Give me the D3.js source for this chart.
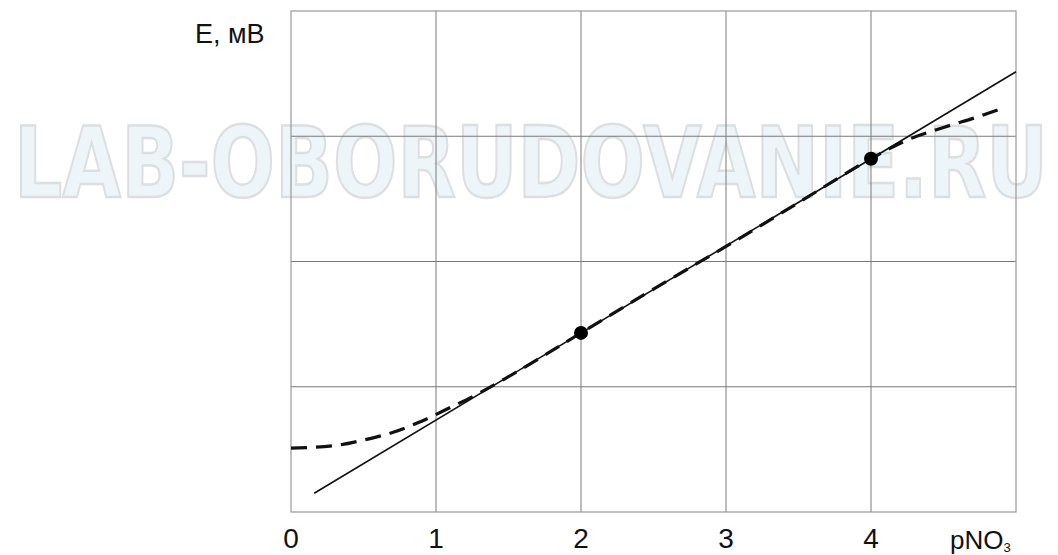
<!DOCTYPE html>
<html>
<head>
<meta charset="utf-8">
<script src="https://cdn.jsdelivr.net/npm/d3@7"></script>
<style>
  body { margin: 0; background: #fff; }
  svg { display: block; }
</style>
</head>
<body>
<div id="chart"></div>
<script>
var width = 1058, height = 555;
var margin = {left: 291, right: 42, top: 11, bottom: 43};

// x ticks (pNO3)
var xTicks = [0, 1, 2, 3, 4];
var yGrid = [1, 2, 3];

// solid calibration line
var lineX = [0.16, 5];
var lineY = [0.15, 3.515];

// dashed (measured) curve
var curveX = [0, 0.3, 0.5, 0.7, 0.9, 1.1, 1.3, 1.5, 2, 2.5, 3, 3.5, 4, 4.25, 4.5, 4.75, 4.9];
var curveY = [0.51, 0.53, 0.575, 0.635, 0.725, 0.835, 0.95, 1.08, 1.43, 1.78, 2.12, 2.47, 2.82, 2.97, 3.07, 3.16, 3.22];

// calibration points
var pointX = [2, 4];
var pointY = [1.43, 2.82];

var x = d3.scaleLinear().domain([0, 5]).range([margin.left, width - margin.right]);
var y = d3.scaleLinear().domain([0, 4]).range([height - margin.bottom, margin.top]);

var svg = d3.select("#chart")
    .append("svg")
    .attr("width", width)
    .attr("height", height);

// watermark behind everything
svg.append("text")
    .attr("x", 14)
    .attr("y", 197)
    .attr("textLength", 1034)
    .attr("lengthAdjust", "spacingAndGlyphs")
    .attr("font-family", "DejaVu Sans, Verdana, sans-serif")
    .attr("font-weight", "bold")
    .attr("font-size", "98px")
    .attr("fill", "#edf5f8")
    .attr("stroke", "#dcdfe1")
    .attr("stroke-width", 2.5)
    .text("LAB-OBORUDOVANIE.RU");

// grid
svg.append("g")
    .selectAll("line")
    .data(xTicks.slice(1))
    .enter()
    .append("line")
    .attr("x1", function(d) { return x(d); })
    .attr("x2", function(d) { return x(d); })
    .attr("y1", y(0))
    .attr("y2", y(4))
    .attr("stroke", "#7a7a7a")
    .attr("stroke-width", 1);

svg.append("g")
    .selectAll("line")
    .data(yGrid)
    .enter()
    .append("line")
    .attr("x1", x(0))
    .attr("x2", x(5))
    .attr("y1", function(d) { return y(d); })
    .attr("y2", function(d) { return y(d); })
    .attr("stroke", "#7a7a7a")
    .attr("stroke-width", 1);

svg.append("rect")
    .attr("x", x(0))
    .attr("y", y(4))
    .attr("width", x(5) - x(0))
    .attr("height", y(0) - y(4))
    .attr("fill", "none")
    .attr("stroke", "#999")
    .attr("stroke-width", 1.2);

// solid line
var line = d3.line()
    .x(function(d) { return x(d[0]); })
    .y(function(d) { return y(d[1]); });

svg.append("path")
    .datum(d3.zip(lineX, lineY))
    .attr("d", line)
    .attr("fill", "none")
    .attr("stroke", "#111")
    .attr("stroke-width", 1.6);

// dashed curve
svg.append("path")
    .datum(d3.zip(curveX, curveY))
    .attr("d", line.curve(d3.curveMonotoneX))
    .attr("fill", "none")
    .attr("stroke", "#111")
    .attr("stroke-width", 3.2)
    .attr("stroke-dasharray", "16,9");

// points
svg.selectAll("circle")
    .data(d3.zip(pointX, pointY))
    .enter()
    .append("circle")
    .attr("cx", function(d) { return x(d[0]); })
    .attr("cy", function(d) { return y(d[1]); })
    .attr("r", 7)
    .attr("fill", "#000");

// tick labels
svg.append("g")
    .selectAll("text")
    .data(xTicks)
    .enter()
    .append("text")
    .attr("x", function(d) { return x(d); })
    .attr("y", 548)
    .attr("text-anchor", "middle")
    .attr("font-family", "Liberation Sans, Arial, sans-serif")
    .attr("font-size", "28px")
    .attr("fill", "#111")
    .text(function(d) { return d; });

// axis titles
svg.append("text")
    .attr("x", 195)
    .attr("y", 43)
    .attr("font-family", "Liberation Sans, Arial, sans-serif")
    .attr("font-size", "27px")
    .attr("fill", "#111")
    .text("E, мВ");

var xt = svg.append("text")
    .attr("x", 950)
    .attr("y", 549)
    .attr("font-family", "Liberation Sans, Arial, sans-serif")
    .attr("font-size", "26px")
    .attr("fill", "#111");
xt.append("tspan").text("pNO");
xt.append("tspan")
    .attr("font-size", "13px")
    .attr("dy", 3)
    .text("3");
</script>
</body>
</html>
